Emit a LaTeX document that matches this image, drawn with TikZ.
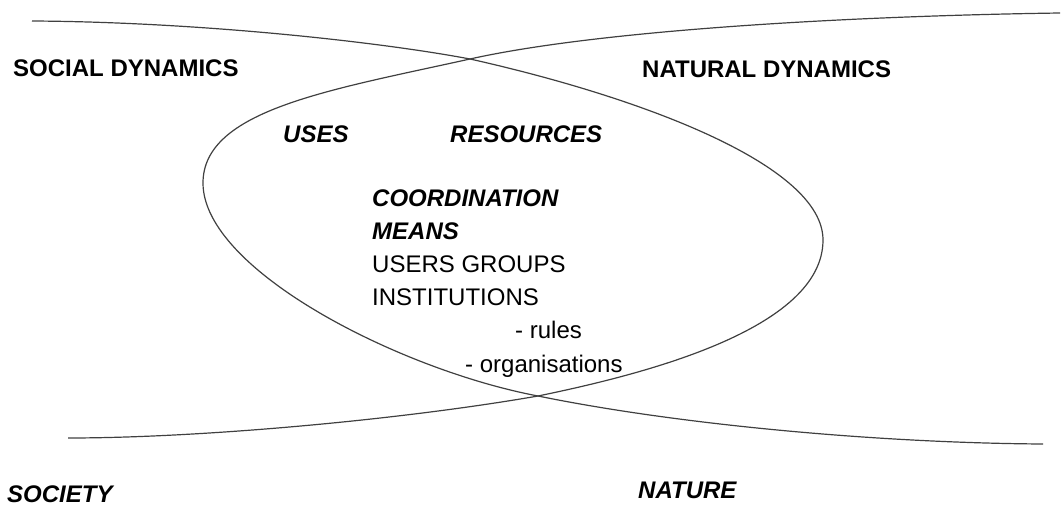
\documentclass[tikz,border=0pt]{standalone}
\usepackage{fontspec}
\setmainfont{Liberation Sans}
\usetikzlibrary{positioning}
\tikzstyle{line} = [draw, line width=1.2pt, black!75]
\tikzstyle{dynamics} = [font=\fontsize{24}{28}\selectfont\bfseries, inner sep=0pt, anchor=base west]
\tikzstyle{keyterm} = [font=\fontsize{24}{28}\selectfont\bfseries\itshape, inner sep=0pt, anchor=base west]
\tikzstyle{entry} = [font=\fontsize{24}{28}\selectfont, inner sep=0pt, anchor=base west]

\begin{document}
\begin{tikzpicture}[x=1pt, y=-1pt, node distance=32.7pt]
    \useasboundingbox (0,0) rectangle (1063,505);
    \coordinate (topx) at (470,59);
    \coordinate (botx) at (538,396);
    \coordinate (socstart) at (32,21);
    \coordinate (socend) at (68,438);
    \coordinate (natstart) at (1060,13);
    \coordinate (natend) at (1043,444);
    % society side: open to the left, closes round the right end
    \path [line] (socstart) .. controls (200,22) and (380,42) .. (topx)
        .. controls (640,97) and (823,165) .. (823,240)
        .. controls (823,330) and (640,375) .. (botx)
        .. controls (400,420) and (200,438) .. (socend);
    % nature side: open to the right, closes round the left end
    \path [line] (natstart) .. controls (850,16) and (600,30) .. (topx)
        .. controls (330,90) and (203,110) .. (203,183)
        .. controls (203,270) and (400,370) .. (botx)
        .. controls (680,425) and (880,443) .. (natend);

    \node[dynamics] (social) at (13,77) {SOCIAL DYNAMICS};
    \node[dynamics] (natural) at (642,78) {NATURAL DYNAMICS};
    \node[keyterm] (uses) at (283,143) {USES};
    \node[keyterm] (resources) at (450,143) {RESOURCES};

    \node[keyterm] (coord) at (372,207) {COORDINATION};
    \node[keyterm, below=of coord.base west, anchor=base west] (means) {MEANS};
    \node[entry, below=of means.base west, anchor=base west] (groups) {USERS GROUPS};
    \node[entry, below=of groups.base west, anchor=base west] (inst) {INSTITUTIONS};
    \node[entry, below right=33pt and 143pt of inst.base west, anchor=base west] (rules) {- rules};
    \node[entry, below left=34pt and 50pt of rules.base west, anchor=base west] (orgs) {- organisations};

    \node[keyterm] (society) at (7,502) {SOCIETY};
    \node[keyterm] (nature) at (638,498) {NATURE};
\end{tikzpicture}
\end{document}
